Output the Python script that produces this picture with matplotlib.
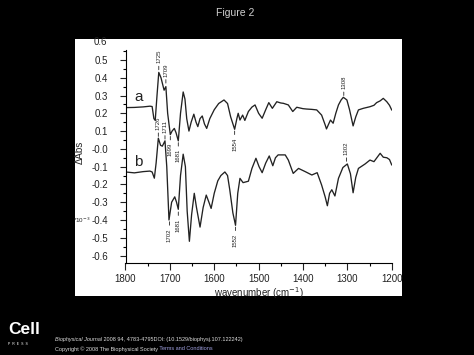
import numpy as np
import matplotlib
matplotlib.use('Agg')
import matplotlib.pyplot as plt
from matplotlib.patches import Rectangle
from matplotlib.ticker import MultipleLocator

plt.rcParams['font.family'] = ['Liberation Sans', 'DejaVu Sans']
plt.rcParams['axes.unicode_minus'] = False

# ============================== DATA ==============================
# spectrum a (wavenumber, dAbs)
wn_a = [1800, 1780, 1760, 1745, 1740, 1736, 1733, 1729, 1725, 1720, 1713, 1709,
        1705, 1699, 1695, 1690, 1686, 1681, 1676, 1670, 1666, 1662, 1657, 1652,
        1646, 1641, 1637, 1632, 1627, 1622, 1617, 1610, 1600, 1590, 1578, 1570,
        1563, 1554, 1549, 1546, 1542, 1536, 1531, 1523, 1515, 1508, 1500, 1492,
        1484, 1477, 1469, 1459, 1450, 1444, 1433, 1423, 1414, 1400, 1392, 1380,
        1369, 1358, 1350, 1347, 1342, 1338, 1332, 1326, 1320, 1314, 1309, 1301,
        1295, 1287, 1281, 1275, 1264, 1249, 1240, 1234, 1226, 1219, 1211, 1205, 1200]
abs_a = [0.232, 0.233, 0.236, 0.240, 0.238, 0.170, 0.160, 0.300, 0.430, 0.400, 0.330, 0.350,
         0.200, 0.080, 0.100, 0.115, 0.090, 0.045, 0.200, 0.320, 0.280, 0.170, 0.100, 0.150,
         0.195, 0.150, 0.125, 0.170, 0.185, 0.140, 0.115, 0.170, 0.220, 0.255, 0.275, 0.255,
         0.180, 0.110, 0.170, 0.200, 0.162, 0.190, 0.160, 0.210, 0.235, 0.247, 0.200, 0.172,
         0.220, 0.260, 0.228, 0.265, 0.258, 0.256, 0.247, 0.210, 0.234, 0.226, 0.224, 0.222,
         0.219, 0.190, 0.135, 0.112, 0.140, 0.162, 0.144, 0.200, 0.247, 0.275, 0.290, 0.275,
         0.220, 0.129, 0.180, 0.219, 0.228, 0.237, 0.245, 0.260, 0.270, 0.284, 0.265, 0.245, 0.219]

# spectrum b
wn_b = [1800, 1780, 1760, 1745, 1740, 1735, 1731, 1726, 1721, 1717, 1711, 1707,
        1702, 1696, 1689, 1685, 1681, 1676, 1670, 1665, 1661, 1656, 1651, 1645,
        1640, 1632, 1625, 1618, 1612, 1607, 1600, 1592, 1585, 1576, 1570, 1565,
        1558, 1552, 1547, 1542, 1535, 1523, 1515, 1506, 1499, 1492, 1484, 1476,
        1468, 1462, 1456, 1440, 1433, 1422, 1410, 1395, 1380, 1368, 1358, 1350,
        1345, 1340, 1335, 1328, 1320, 1310, 1300, 1293, 1287, 1281, 1275, 1260,
        1249, 1240, 1226, 1219, 1211, 1205, 1200]
abs_b = [-0.130, -0.135, -0.128, -0.125, -0.130, -0.165, -0.080, 0.060, 0.020, 0.015, 0.045, -0.100,
         -0.400, -0.300, -0.270, -0.300, -0.340, -0.150, -0.030, -0.100, -0.350, -0.520, -0.370, -0.250,
         -0.330, -0.440, -0.330, -0.260, -0.300, -0.335, -0.250, -0.180, -0.150, -0.130, -0.150, -0.230,
         -0.360, -0.430, -0.250, -0.166, -0.190, -0.182, -0.110, -0.053, -0.100, -0.134, -0.080, -0.040,
         -0.095, -0.050, -0.034, -0.034, -0.063, -0.138, -0.110, -0.128, -0.147, -0.134, -0.203, -0.270,
         -0.320, -0.250, -0.230, -0.265, -0.166, -0.105, -0.085, -0.140, -0.247, -0.160, -0.110, -0.085,
         -0.063, -0.072, -0.025, -0.047, -0.050, -0.060, -0.090]

# peak labels: text, wavenumber, dAbs at line tip, up (True) / down (False)
peak_lbls = ['1725', '1709', '1308', '1699', '1681', '1554',
             '1726', '1711', '1302', '1702', '1681', '1552']
peak_wn   = [1725, 1709, 1308, 1699, 1681, 1554,
             1726, 1711, 1302, 1701, 1681, 1552]
peak_val  = [0.445, 0.37, 0.30, 0.07, 0.035, 0.10,
             0.07, 0.055, -0.07, -0.41, -0.355, -0.44]
peak_up   = [True, True, True, False, False, False,
             True, True, True, False, False, False]

# ============================== PLOT ==============================
W, H = 474, 355
fig = plt.figure(figsize=(W/100, H/100), dpi=100, facecolor='black')

# white panel behind the graph
fig.patches.append(Rectangle((75/W, 1-296/H), 327/W, 257/H, transform=fig.transFigure,
                             facecolor='white', edgecolor='none', zorder=-5))

ax = fig.add_axes([125.5/W, 1-263/H, 266.2/W, 213/H])
ax.set_zorder(5)
ax.set_facecolor('none')

ax.plot(wn_a, abs_a, color='#222222', lw=0.95)
ax.plot(wn_b, abs_b, color='#222222', lw=0.95)

for lbl, w, v, up in zip(peak_lbls, peak_wn, peak_val, peak_up):
    off = 4.5 if up else -4.5
    ax.annotate(lbl, xy=(w, v), xytext=(0, off), textcoords='offset points',
                rotation=90, ha='center', va='bottom' if up else 'top',
                fontsize=4.3, color='#222222',
                arrowprops=dict(arrowstyle='-', lw=0.6, color='#222222',
                                shrinkA=0, shrinkB=0))

ax.text(1770, 0.29, 'a', fontsize=11, ha='center', va='center', color='#222222')
ax.text(1772, -0.075, 'b', fontsize=11, ha='center', va='center', color='#222222')

ax.set_xlim(1800, 1200)
ax.set_ylim(-0.642, 0.556)

for s in ['top', 'right']:
    ax.spines[s].set_visible(False)
ax.spines['left'].set_linewidth(0.8)
ax.spines['bottom'].set_linewidth(0.8)

ax.xaxis.set_major_locator(MultipleLocator(100))
ax.xaxis.set_minor_locator(MultipleLocator(50))
ax.yaxis.set_minor_locator(MultipleLocator(0.05))
ax.tick_params(axis='x', which='major', direction='out', length=5, width=0.8, pad=3,
               labelsize=7, colors='#222222')
ax.tick_params(axis='x', which='minor', direction='out', length=2.5, width=0.8)
ax.tick_params(axis='y', which='major', direction='out', length=4.5, width=0.8, pad=8,
               labelsize=7, colors='#222222')
ax.tick_params(axis='y', which='minor', direction='out', length=2.5, width=0.8)
ax.set_yticks(np.round(np.arange(-0.6, 0.51, 0.1), 1))
ax.yaxis.set_major_formatter(plt.FuncFormatter(lambda v, p: '%.1f' % v))

# top label sits above the end of the axis line
ax.text(-0.0695, 0.6, '0.6', transform=ax.get_yaxis_transform(), ha='right',
        va='center', fontsize=7, color='#222222', clip_on=False)
ax.text(-0.13, -0.40, '*10$^{-3}$', transform=ax.get_yaxis_transform(), ha='right',
        va='center', fontsize=4.5, color='#222222', clip_on=False)

ax.set_xlabel('wavenumber (cm$^{-1}$)', fontsize=7, labelpad=1, color='#222222')
fig.text(80/W, 1-152/H, 'ΔAbs', rotation=90, ha='center', va='center',
         fontsize=7, color='#222222', zorder=6)

# header / footer
fig.text(235/W, 1-12.5/H, 'Figure 2', ha='center', va='center', fontsize=7.5, color='#d0d0d0')
fig.text(8/W, 1-330/H, 'Cell', ha='left', va='center', fontsize=12.5, weight='bold', color='white')
fig.text(8/W, 1-344/H, 'P  R  E  S  S', ha='left', va='center', fontsize=2.5, color='white')
t1 = fig.text(55/W, 1-340/H, 'Biophysical Journal', style='italic', ha='left', va='center',
              fontsize=4, color='#dddddd')
t2 = fig.text(55/W, 1-349/H, 'Copyright © 2008 The Biophysical Society', ha='left', va='center',
              fontsize=4, color='#dddddd')

# chain the following pieces right after the previous texts
plt.annotate(' 2008 94, 4783-4795DOI: (10.1529/biophysj.107.122242)', xy=(1, 0.5),
             xycoords=t1, va='center', ha='left', fontsize=4, color='#dddddd',
             annotation_clip=False)
plt.annotate(' Terms and Conditions', xy=(1, 0.5), xycoords=t2, va='center', ha='left',
             fontsize=4, color='#a0a0e0', annotation_clip=False)

fig.savefig('out.png', dpi=100, facecolor='black')
